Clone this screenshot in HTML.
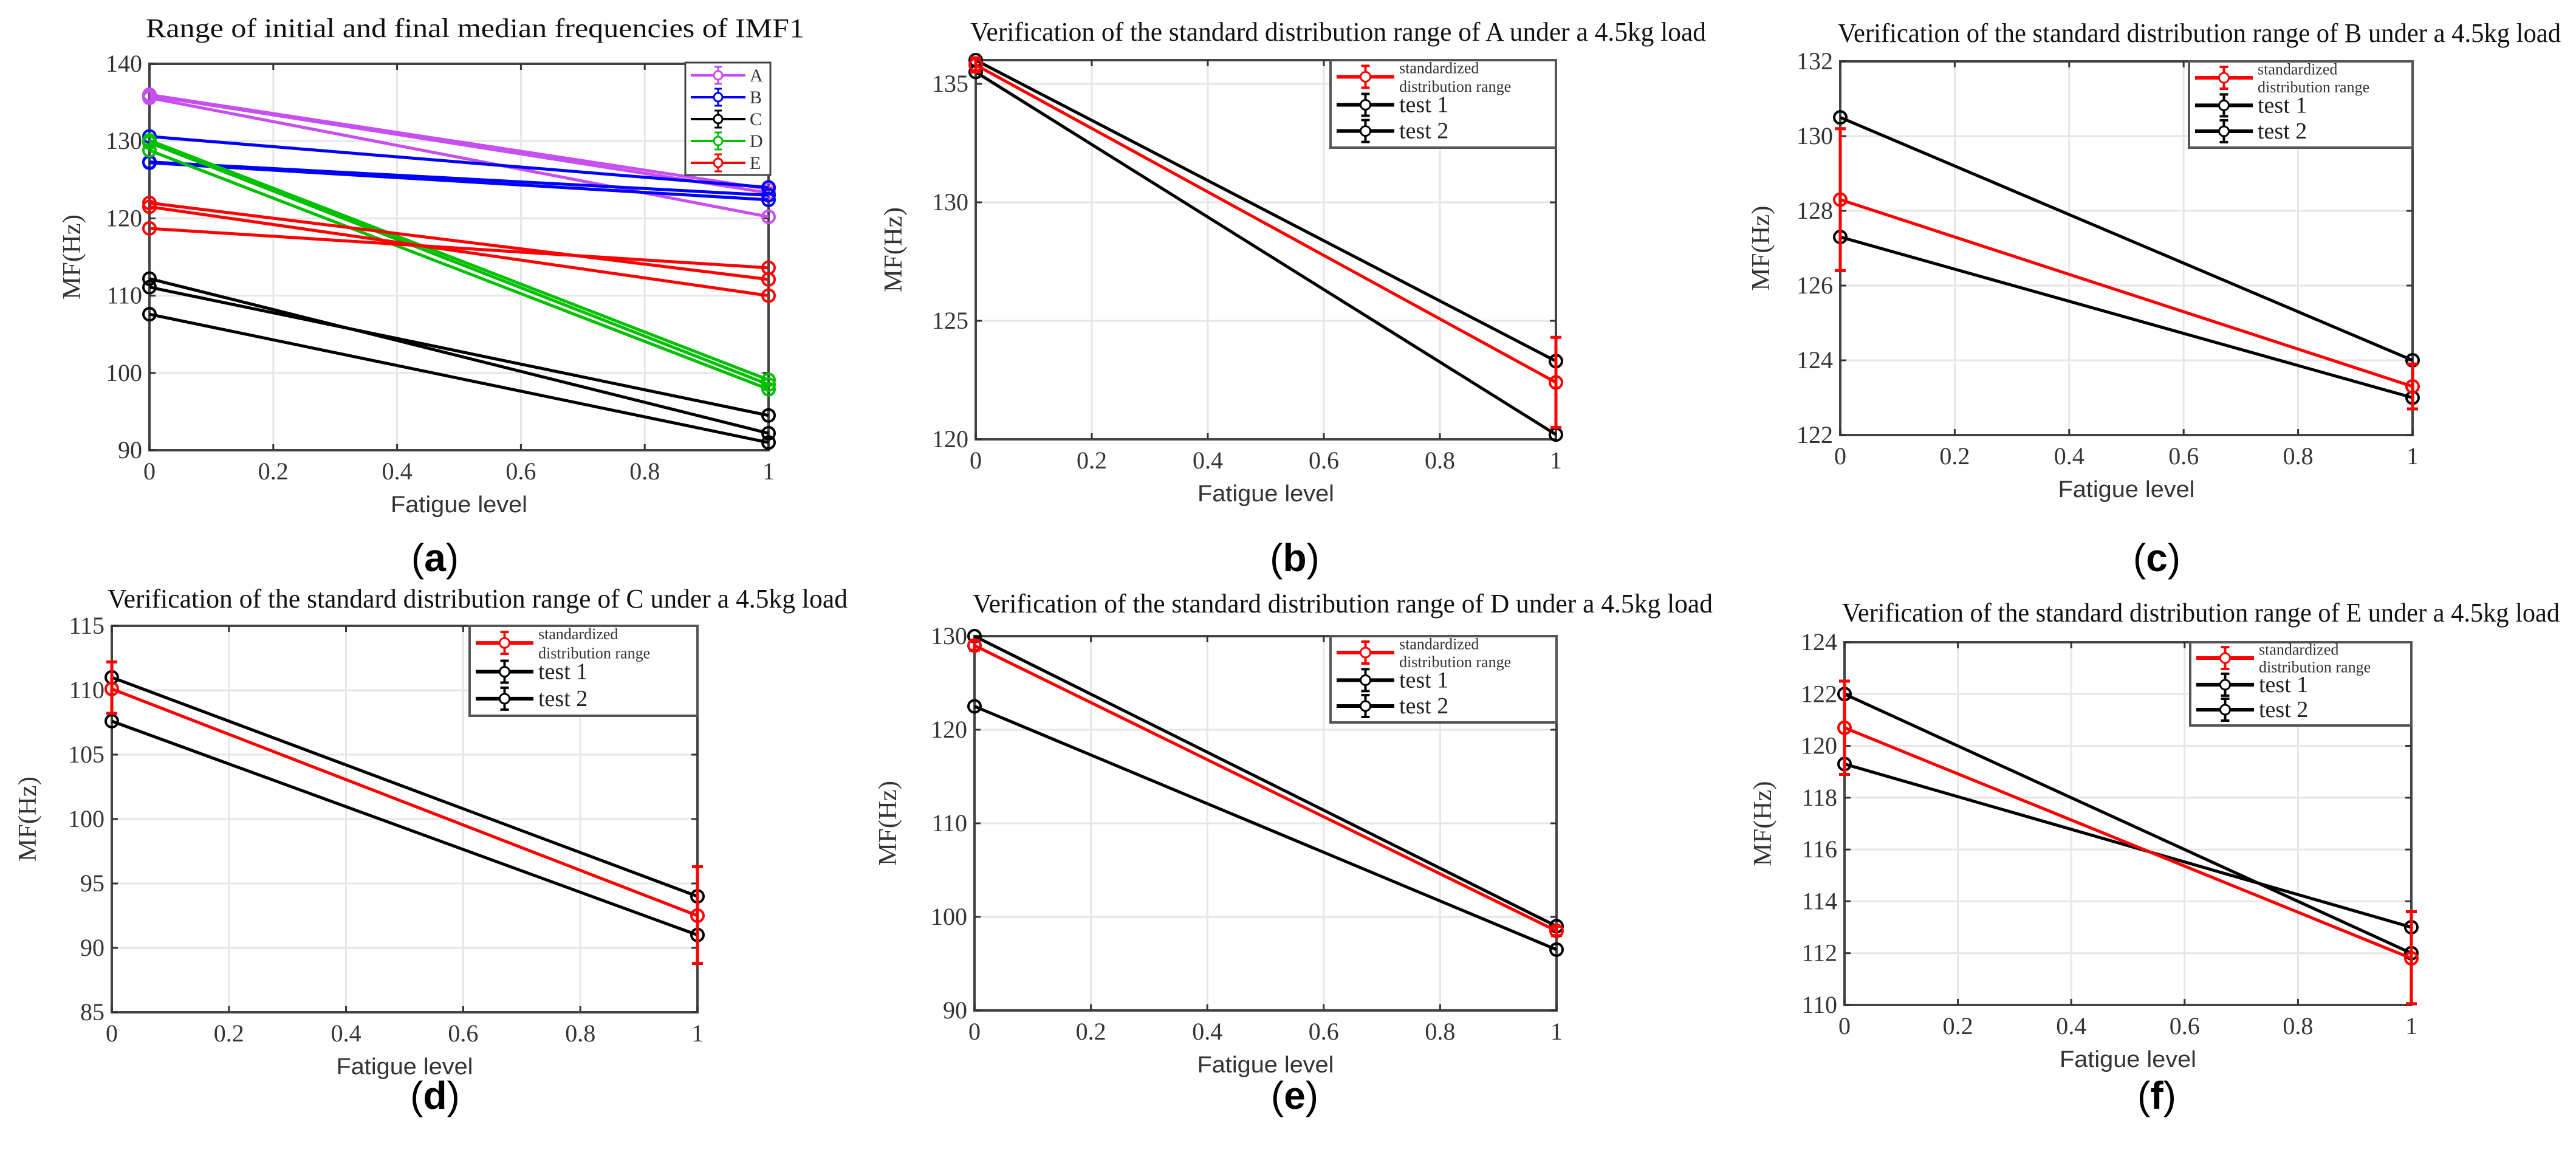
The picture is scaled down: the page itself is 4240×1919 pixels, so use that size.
<!DOCTYPE html>
<html><head><meta charset="utf-8"><style>
html,body{margin:0;padding:0;background:#fff;}
svg{display:block;}
</style></head><body>
<svg id="fig" width="4240" height="1919" viewBox="0 0 4240 1919" xmlns="http://www.w3.org/2000/svg"></svg>
<script>
// ---- Panel (a) data ----
const aSeriesNames = ["A","B","C","D","E"];
const aColors = ["#c74ff0","#0000ff","#000000","#00c000","#ff0000"];
const aStart = [[135.9,135.6,136.0],[130.6,127.3,127.2],[112.2,111.1,107.6],[130.1,129.8,128.8],[118.7,122.0,121.5]];
const aEnd   = [[123.3,120.2,123.8],[124.0,123.0,122.4],[92.2,94.5,91.0],[99.1,98.5,97.9],[113.6,112.1,110.0]];
const aYTicks = [90,100,110,120,130,140];
const xTicks = [0,0.2,0.4,0.6,0.8,1];
const xTickLabels = ["0","0.2","0.4","0.6","0.8","1"];
// ---- Panels (b)-(f) data: [x0 value, x1 value] ----
const bTest1 = [136.0,123.3], bTest2 = [135.5,120.2], bStd = [135.8,122.4], bErrLo = [135.5,120.5], bErrHi = [136.1,124.3];
const cTest1 = [130.5,124.0], cTest2 = [127.3,123.0], cStd = [128.3,123.3], cErrLo = [126.4,122.7], cErrHi = [130.2,123.9];
const dTest1 = [111.0,94.0], dTest2 = [107.6,91.0], dStd = [110.1,92.5], dErrLo = [108.2,88.8], dErrHi = [112.2,96.3];
const eTest1 = [130.0,99.0], eTest2 = [122.5,96.5], eStd = [129.0,98.5], eErrLo = [128.5,98.0], eErrHi = [129.5,99.0];
const fTest1 = [122.0,112.0], fTest2 = [119.3,113.0], fStd = [120.7,111.8], fErrLo = [118.9,110.05], fErrHi = [122.5,113.6];
const bYTicks = [120,125,130,135];
const cYTicks = [122,124,126,128,130,132];
const dYTicks = [85,90,95,100,105,110,115];
const eYTicks = [90,100,110,120,130];
const fYTicks = [110,112,114,116,118,120,122,124];

const NS = "http://www.w3.org/2000/svg";
const svg = document.getElementById("fig");
function mk(tag, attrs, parent, text){
  const e = document.createElementNS(NS, tag);
  for (const k in attrs) e.setAttribute(k, attrs[k]);
  if (text !== undefined) e.textContent = text;
  (parent||svg).appendChild(e);
  return e;
}

function drawPanel(p){
  const g = mk("g", {});
  
  
  const X = v => p.x0 + v*(p.x1-p.x0);
  const Y = v => p.y1 - (v-p.ymin)/(p.ymax-p.ymin)*(p.y1-p.y0);
  xTicks.forEach(t=>{ const l = mk("line",{x1:X(t),x2:X(t),y1:p.y0,y2:p.y1,stroke:"#e6e6e6","stroke-width":3},g);
      });
  p.yTicks.forEach(t=>{ const l = mk("line",{x1:p.x0,x2:p.x1,y1:Y(t),y2:Y(t),stroke:"#e6e6e6","stroke-width":3},g);
      });
  const fr = mk("rect",{x:p.x0,y:p.y0,width:p.x1-p.x0,height:p.y1-p.y0,fill:"none",stroke:"#444","stroke-width":4},g);
   
  xTicks.forEach((t,i)=>{
    mk("line",{x1:X(t),x2:X(t),y1:p.y1,y2:p.y1-10,stroke:"#333","stroke-width":3},g);
    mk("line",{x1:X(t),x2:X(t),y1:p.y0,y2:p.y0+10,stroke:"#333","stroke-width":3},g);
    const tx = mk("text",{x:X(t),y:p.y1+48,"text-anchor":"middle","font-family":"Liberation Serif, serif","font-size":40,fill:"#333"},g,xTickLabels[i]);
     
  });
  p.yTicks.forEach(t=>{
    mk("line",{x1:p.x0,x2:p.x0+10,y1:Y(t),y2:Y(t),stroke:"#333","stroke-width":3},g);
    mk("line",{x1:p.x1,x2:p.x1-10,y1:Y(t),y2:Y(t),stroke:"#333","stroke-width":3},g);
    const ty = mk("text",{x:p.x0-12,y:Y(t)+13,"text-anchor":"end","font-family":"Liberation Serif, serif","font-size":40,fill:"#333"},g,String(t));
     
  });
  const tt = mk("text",{x:p.tx0,y:p.ty,"font-family":"Liberation Serif, serif","font-size":44,fill:"#111",textLength:p.tx1-p.tx0,lengthAdjust:"spacingAndGlyphs"},g,p.title);
   
  const xl = mk("text",{x:(p.x0+p.x1)/2,y:p.y1+102,"text-anchor":"middle","font-family":"Liberation Sans, sans-serif","font-size":38,fill:"#333",textLength:225,lengthAdjust:"spacingAndGlyphs"},g,"Fatigue level");
   
  const yc = (p.y0+p.y1)/2;
  const yl = mk("text",{x:p.ylx,y:yc,"text-anchor":"middle","font-family":"Liberation Serif, serif","font-size":42,fill:"#333",transform:`rotate(-90 ${p.ylx} ${yc}) translate(0 14)`,textLength:140,lengthAdjust:"spacingAndGlyphs"},g,"MF(Hz)");
   
  const pl = mk("text",{x:p.lx,y:p.ly,"text-anchor":"middle","font-family":"Liberation Sans, sans-serif","font-size":64,fill:"#000"},g);
   
  mk("tspan",{},pl,"(");
  mk("tspan",{"font-weight":"bold"},pl,p.id);
  mk("tspan",{},pl,")");
  return {g,X,Y};
}

function series(ctx, vals, color, name, lo, hi){
  const {g,X,Y} = ctx;
  const s = mk("g",{},g);
  
  
  mk("line",{x1:X(0),y1:Y(vals[0]),x2:X(1),y2:Y(vals[1]),stroke:color,"stroke-width":5},s);
  if (lo && hi){
    [0,1].forEach(i=>{
      const e = mk("path",{d:`M${X(i)} ${Y(lo[i])}V${Y(hi[i])}M${X(i)-9} ${Y(lo[i])}h18M${X(i)-9} ${Y(hi[i])}h18`,stroke:color,"stroke-width":5,fill:"none"},s);
       
    });
  }
  [0,1].forEach(i=>{
    const c = mk("circle",{cx:X(i),cy:Y(vals[i]),r:10,fill:"none",stroke:color,"stroke-width":4},s);
     
  });
}

function legendSym(g, x1, x2, y, color, w){
  mk("line",{x1:x1,x2:x2,y1:y,y2:y,stroke:color,"stroke-width":w},g);
  const xm=(x1+x2)/2;
  mk("path",{d:`M${xm} ${y-18}V${y+18}M${xm-7} ${y-18}h14M${xm-7} ${y+18}h14`,stroke:color,"stroke-width":4},g);
  mk("circle",{cx:xm,cy:y,r:8,fill:"#fff",stroke:color,"stroke-width":3},g);
}

function verLegend(ctx, p){
  const lg = mk("g",{},ctx.g);
  
  
  const L=p.lgx0, T=p.y0, W=p.x1-p.lgx0, H=p.lgh;
  mk("rect",{x:L,y:T,width:W,height:H,fill:"#fff",stroke:"#555","stroke-width":4},lg);
  const ys=[T+H*0.19,T+H*0.51,T+H*0.81];
  const names=["legend-entry-standardized","legend-entry-test-1","legend-entry-test-2"];
  const cols=["#ff0000","#000","#000"];
  ys.forEach((y,i)=>{
    const e = mk("g",{},lg);
    
    
    legendSym(e, L+10, L+105, y, cols[i], 6);
  });
  mk("text",{x:L+113,y:T+H*0.15,"font-family":"Liberation Serif, serif","font-size":26,fill:"#333"},lg,"standardized");
  mk("text",{x:L+113,y:T+H*0.36,"font-family":"Liberation Serif, serif","font-size":26,fill:"#333"},lg,"distribution range");
  mk("text",{x:L+113,y:ys[1]+12,"font-family":"Liberation Serif, serif","font-size":38,fill:"#222"},lg,"test 1");
  mk("text",{x:L+113,y:ys[2]+12,"font-family":"Liberation Serif, serif","font-size":38,fill:"#222"},lg,"test 2");
}

// ---- Panel (a) ----
const pa = {id:"a",x0:246,x1:1265,y0:105,y1:741,ymin:90,ymax:140,yTicks:aYTicks,tx0:240,tx1:1324,ty:61,
  title:"Range of initial and final median frequencies of IMF1",ylx:118,lx:716,ly:940};
const ca = drawPanel(pa);
aSeriesNames.forEach((n,si)=>{
  aStart[si].forEach((v,k)=> series(ca,[v,aEnd[si][k]],aColors[si],"series-"+n+"-line-"+(k+1)));
});
(function(){
  const lg = mk("g",{},ca.g);
  
  
  mk("rect",{x:1128,y:103,width:140,height:185,fill:"#fff",stroke:"#444","stroke-width":3},lg);
  aSeriesNames.forEach((n,i)=>{
    const y = 124 + i*36;
    const e = mk("g",{},lg);
    
    
    mk("line",{x1:1137,x2:1227,y1:y,y2:y,stroke:aColors[i],"stroke-width":4},e);
    mk("path",{d:`M1182 ${y-14}V${y+14}M1176 ${y-14}h12M1176 ${y+14}h12`,stroke:aColors[i],"stroke-width":3},e);
    mk("circle",{cx:1182,cy:y,r:7,fill:"#fff",stroke:aColors[i],"stroke-width":3},e);
    mk("text",{x:1234,y:y+10,"font-family":"Liberation Serif, serif","font-size":30,fill:"#333"},e,n);
  });
})();

// ---- Panels (b)-(f) ----
const panels = [
  {id:"b",x0:1606,x1:2561,y0:99,y1:723,ymin:120,ymax:136,yTicks:bYTicks,tx0:1597,tx1:2808,ty:67,ylx:1470,lx:2131,ly:940,lgx0:2190,lgh:144,L:"A",d:[bTest1,bTest2,bStd,bErrLo,bErrHi]},
  {id:"c",x0:3029,x1:3971,y0:101,y1:716,ymin:122,ymax:132,yTicks:cYTicks,tx0:3025,tx1:4215,ty:69,ylx:2898,lx:3550,ly:940,lgx0:3603,lgh:142,L:"B",d:[cTest1,cTest2,cStd,cErrLo,cErrHi]},
  {id:"d",x0:184,x1:1148,y0:1030,y1:1666,ymin:85,ymax:115,yTicks:dYTicks,tx0:177,tx1:1395,ty:1000,ylx:45,lx:716,ly:1825,lgx0:773,lgh:148,L:"C",d:[dTest1,dTest2,dStd,dErrLo,dErrHi]},
  {id:"e",x0:1604,x1:2562,y0:1047,y1:1663,ymin:90,ymax:130,yTicks:eYTicks,tx0:1601,tx1:2819,ty:1008,ylx:1461,lx:2131,ly:1825,lgx0:2190,lgh:142,L:"D",d:[eTest1,eTest2,eStd,eErrLo,eErrHi]},
  {id:"f",x0:3036,x1:3969,y0:1057,y1:1654,ymin:110,ymax:124,yTicks:fYTicks,tx0:3032,tx1:4213,ty:1023,ylx:2901,lx:3550,ly:1825,lgx0:3605,lgh:137,L:"E",d:[fTest1,fTest2,fStd,fErrLo,fErrHi]}
];
panels.forEach(p=>{
  p.title = "Verification of the standard distribution range of "+p.L+" under a 4.5kg load";
  const c = drawPanel(p);
  series(c,p.d[0],"#000","series-test-1");
  series(c,p.d[1],"#000","series-test-2");
  series(c,p.d[2],"#ff0000","series-standardized",p.d[3],p.d[4]);
  verLegend(c,p);
});
</script>
</body></html>
